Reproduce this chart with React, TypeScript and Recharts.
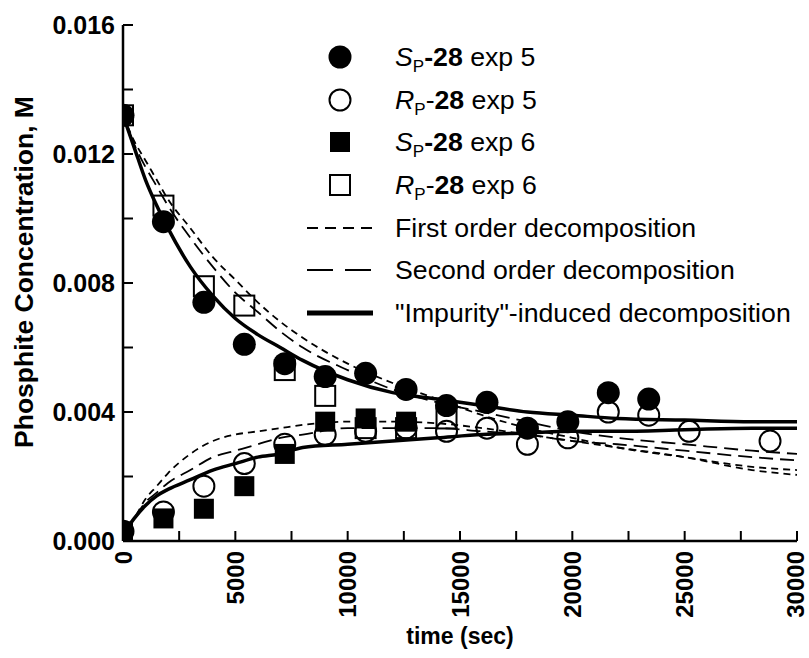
import React from "react";
import { ComposedChart, Line, Scatter, XAxis, YAxis, Legend } from "recharts";

// measured times (sec) for the experimental points
const SAMPLE_T = [0, 1800, 3600, 5400, 7200, 9000, 10800, 12600, 14400, 16200, 18000, 19800, 21600, 23400, 25200, 28800];
const SP_EXP5 = [0.0132, 0.0099, 0.0074, 0.0061, 0.0055, 0.0051, 0.0052, 0.0047, 0.0042, 0.0043, 0.0035, 0.0037, 0.0046, 0.0044];
const RP_EXP5 = [0.0003, 0.0009, 0.0017, 0.0024, 0.003, 0.0033, 0.0034, 0.0035, 0.0034, 0.0035, 0.003, 0.0032, 0.004, 0.0039, 0.0034, 0.0031];
const SP_EXP6 = [0.0003, 0.0007, 0.001, 0.0017, 0.0027, 0.0037, 0.0038, 0.0037];
const RP_EXP6 = [0.0132, 0.0104, 0.0079, 0.0073, 0.0053, 0.0045, 0.0035, 0.0035, 0.0038];

// model curves
const FIT_T = [0, 500, 1000, 1500, 2000, 3000, 4000, 5000, 6000, 7000, 8000, 10000, 12000, 14000, 16000, 18000, 20000, 22000, 25000, 28000, 30000];
const IMP_DEC = [0.0132, 0.0122, 0.0112, 0.0104, 0.0097, 0.0085, 0.0076, 0.0069, 0.0064, 0.006, 0.0056, 0.005, 0.0046, 0.0044, 0.0042, 0.004, 0.0039, 0.0038, 0.00375, 0.0037, 0.0037];
const IMP_INC = [0.0002, 0.0007, 0.0011, 0.0014, 0.0016, 0.0019, 0.0022, 0.0024, 0.0026, 0.0027, 0.0029, 0.003, 0.0031, 0.0032, 0.0033, 0.00335, 0.0034, 0.0034, 0.00345, 0.0035, 0.0035];
const FIRST_DEC = [0.0132, 0.0124, 0.0118, 0.0112, 0.0106, 0.0097, 0.0088, 0.0081, 0.0074, 0.0068, 0.0063, 0.0055, 0.0049, 0.0044, 0.0039, 0.0035, 0.0032, 0.0029, 0.0026, 0.0023, 0.0022];
const FIRST_INC = [0.0002, 0.0007, 0.0013, 0.0017, 0.0021, 0.0027, 0.0031, 0.0033, 0.0034, 0.0035, 0.0036, 0.0037, 0.0037, 0.00365, 0.0035, 0.0033, 0.0031, 0.0029, 0.0026, 0.0022, 0.00205];
const SECOND_DEC = [0.0132, 0.0123, 0.0116, 0.011, 0.0104, 0.0094, 0.0085, 0.0077, 0.0071, 0.0065, 0.006, 0.0053, 0.0047, 0.0043, 0.004, 0.0037, 0.0034, 0.0032, 0.003, 0.0028, 0.0027];
const SECOND_INC = [0.0002, 0.0007, 0.0012, 0.0015, 0.0018, 0.0022, 0.0026, 0.0028, 0.003, 0.0032, 0.0033, 0.0035, 0.0035, 0.0035, 0.0034, 0.0033, 0.0031, 0.003, 0.0028, 0.0026, 0.0025];

const X_TICKS = [0, 2500, 5000, 7500, 10000, 12500, 15000, 17500, 20000, 22500, 25000, 27500, 30000];
const Y_TICKS = [0, 0.002, 0.004, 0.006, 0.008, 0.01, 0.012, 0.014, 0.016];

const FONT = "'Liberation Sans', Arial, Helvetica, sans-serif";
const TICK_LEN = 10;

const pts = (vals: number[], ts: number[]) => vals.map((c, i) => ({ t: ts[i], c }));

const isMajorY = (v: number) => Math.round(v * 1000) % 4 === 0;

const BottomTick = ({ x, y, payload }: any) => {
  const v = payload.value;
  const lx = v === 30000 ? x - 2 : x;
  return (
    <g>
      <line x1={x} y1={y} x2={x} y2={y - TICK_LEN} stroke="#000" strokeWidth={2} />
      {v % 5000 === 0 && (
        <text
          x={lx}
          y={y + 10}
          transform={`rotate(-90 ${lx} ${y + 10})`}
          textAnchor="end"
          dominantBaseline="central"
          fontFamily={FONT}
          fontWeight="bold"
          fontSize={24}
          fill="#000"
        >
          {v}
        </text>
      )}
    </g>
  );
};

const TopTick = ({ x, y }: any) => (
  <line x1={x} y1={y} x2={x} y2={y + TICK_LEN} stroke="#000" strokeWidth={2} />
);

const LeftTick = ({ x, y, payload }: any) => {
  const v = payload.value;
  return (
    <g>
      <line x1={x} y1={y} x2={x + TICK_LEN} y2={y} stroke="#000" strokeWidth={2} />
      {isMajorY(v) && (
        <text
          x={x - 8}
          y={y}
          textAnchor="end"
          dominantBaseline="central"
          fontFamily={FONT}
          fontWeight="bold"
          fontSize={25}
          fill="#000"
        >
          {v.toFixed(3)}
        </text>
      )}
    </g>
  );
};

const RightTick = ({ x, y }: any) => (
  <line x1={x} y1={y} x2={x - TICK_LEN} y2={y} stroke="#000" strokeWidth={2} />
);

const FilledCircle = ({ cx, cy }: any) => <circle cx={cx} cy={cy} r={11.5} fill="#000" />;
const OpenCircle = ({ cx, cy }: any) => <circle cx={cx} cy={cy} r={10.5} fill="none" stroke="#000" strokeWidth={2} />;
const FilledSquare = ({ cx, cy }: any) => <rect x={cx - 10} y={cy - 10} width={20} height={20} fill="#000" />;
const OpenSquare = ({ cx, cy }: any) => (
  <rect x={cx - 10} y={cy - 10} width={20} height={20} fill="none" stroke="#000" strokeWidth={2} />
);

const LEGEND_Y = [57, 100, 142, 185, 228, 270, 313];

const SeriesLabel = ({ y, sym, exp }: { y: number; sym: string; exp: number }) => (
  <text x={395} y={y + 9} fontFamily={FONT} fontSize={26.7} fill="#000">
    <tspan fontStyle="italic">{sym}</tspan>
    <tspan fontSize={17} dy={6}>P</tspan>
    <tspan dy={-6} fontWeight={sym === "S" ? "bold" : "normal"}>-</tspan>
    <tspan fontWeight="bold">28</tspan>
    <tspan>{` exp ${exp}`}</tspan>
  </text>
);

const PlainLabel = ({ y, text }: { y: number; text: string }) => (
  <text x={395} y={y + 9} fontFamily={FONT} fontSize={26.7} fill="#000">
    {text}
  </text>
);

const renderLegend = () => (
  <svg width={809} height={340} style={{ display: "block" }}>
    <circle cx={340} cy={LEGEND_Y[0]} r={11.5} fill="#000" />
    <SeriesLabel y={LEGEND_Y[0]} sym="S" exp={5} />
    <circle cx={340} cy={LEGEND_Y[1]} r={10.5} fill="none" stroke="#000" strokeWidth={2} />
    <SeriesLabel y={LEGEND_Y[1]} sym="R" exp={5} />
    <rect x={330} y={LEGEND_Y[2] - 10} width={20} height={20} fill="#000" />
    <SeriesLabel y={LEGEND_Y[2]} sym="S" exp={6} />
    <rect x={330} y={LEGEND_Y[3] - 10} width={20} height={20} fill="none" stroke="#000" strokeWidth={2} />
    <SeriesLabel y={LEGEND_Y[3]} sym="R" exp={6} />
    <line x1={307} y1={LEGEND_Y[4]} x2={373} y2={LEGEND_Y[4]} stroke="#000" strokeWidth={2} strokeDasharray="11 7" />
    <PlainLabel y={LEGEND_Y[4]} text="First order decomposition" />
    <line x1={307} y1={LEGEND_Y[5]} x2={373} y2={LEGEND_Y[5]} stroke="#000" strokeWidth={2} strokeDasharray="26 12" />
    <PlainLabel y={LEGEND_Y[5]} text="Second order decomposition" />
    <line x1={307} y1={LEGEND_Y[6]} x2={373} y2={LEGEND_Y[6]} stroke="#000" strokeWidth={5} />
    <PlainLabel y={LEGEND_Y[6]} text={'"Impurity"-induced decomposition'} />
  </svg>
);

const YTitle = ({ viewBox }: any) => {
  const cy = viewBox.y + viewBox.height / 2 - 11;
  return (
    <text
      x={24}
      y={cy}
      transform={`rotate(-90 24 ${cy})`}
      textAnchor="middle"
      dominantBaseline="central"
      fontFamily={FONT}
      fontWeight="bold"
      fontSize={26.5}
      fill="#000"
    >
      Phosphite Concentration, M
    </text>
  );
};

const XTitle = ({ viewBox }: any) => (
  <text
    x={viewBox.x + viewBox.width / 2}
    y={636}
    textAnchor="middle"
    dominantBaseline="central"
    fontFamily={FONT}
    fontWeight="bold"
    fontSize={23}
    fill="#000"
  >
    time (sec)
  </text>
);

const curves = [
  { key: "fd", vals: FIRST_DEC, dash: "7 5", w: 1.8 },
  { key: "fi", vals: FIRST_INC, dash: "7 5", w: 1.8 },
  { key: "sd", vals: SECOND_DEC, dash: "14 7", w: 1.8 },
  { key: "si", vals: SECOND_INC, dash: "14 7", w: 1.8 },
  { key: "id", vals: IMP_DEC, dash: undefined, w: 3.5 },
  { key: "ii", vals: IMP_INC, dash: undefined, w: 3.5 },
];

export default function App() {
  return (
    <div style={{ position: "absolute", left: 0, top: 0, background: "#fff" }}>
      <ComposedChart width={809} height={658} margin={{ top: 25, right: 12, bottom: 17, left: 23 }}>
        <XAxis
          xAxisId="main"
          dataKey="t"
          type="number"
          domain={[0, 30000]}
          allowDataOverflow
          ticks={X_TICKS}
          interval={0}
          height={100}
          tickSize={0}
          tickMargin={0}
          tickLine={false}
          tick={<BottomTick />}
          axisLine={{ stroke: "#000", strokeWidth: 2.5 }}
          label={<XTitle />}
        />
        <XAxis
          xAxisId="top"
          orientation="top"
          type="number"
          domain={[0, 30000]}
          allowDataOverflow
          ticks={X_TICKS}
          interval={0}
          height={0}
          tickSize={0}
          tickMargin={0}
          tickLine={false}
          tick={<TopTick />}
          axisLine={{ stroke: "#000", strokeWidth: 2.5 }}
        />
        <YAxis
          yAxisId="main"
          type="number"
          domain={[0, 0.016]}
          allowDataOverflow
          ticks={Y_TICKS}
          interval={0}
          width={100}
          tickSize={0}
          tickMargin={0}
          tickLine={false}
          tick={<LeftTick />}
          axisLine={{ stroke: "#000", strokeWidth: 2.5 }}
          label={<YTitle />}
        />
        <YAxis
          yAxisId="right"
          orientation="right"
          type="number"
          domain={[0, 0.016]}
          allowDataOverflow
          ticks={Y_TICKS}
          interval={0}
          width={0}
          tickSize={0}
          tickMargin={0}
          tickLine={false}
          tick={<RightTick />}
          axisLine={{ stroke: "#000", strokeWidth: 2.5 }}
        />
        {curves.map((c) => (
          <Line
            key={c.key}
            xAxisId="main"
            yAxisId="main"
            data={pts(c.vals, FIT_T)}
            dataKey="c"
            type="monotone"
            stroke="#000"
            strokeWidth={c.w}
            strokeDasharray={c.dash}
            dot={false}
            activeDot={false}
            isAnimationActive={false}
          />
        ))}
        <Scatter xAxisId="main" yAxisId="main" data={pts(RP_EXP6, SAMPLE_T)} dataKey="c" shape={<OpenSquare />} isAnimationActive={false} />
        <Scatter xAxisId="main" yAxisId="main" data={pts(RP_EXP5, SAMPLE_T)} dataKey="c" shape={<OpenCircle />} isAnimationActive={false} />
        <Scatter xAxisId="main" yAxisId="main" data={pts(SP_EXP6, SAMPLE_T)} dataKey="c" shape={<FilledSquare />} isAnimationActive={false} />
        <Scatter xAxisId="main" yAxisId="main" data={pts(SP_EXP5, SAMPLE_T)} dataKey="c" shape={<FilledCircle />} isAnimationActive={false} />
        <Legend
          layout="vertical"
          align="center"
          verticalAlign="middle"
          wrapperStyle={{ position: "absolute", left: 0, top: 0, width: 809, height: 340, pointerEvents: "none" }}
          content={renderLegend}
        />
      </ComposedChart>
    </div>
  );
}
